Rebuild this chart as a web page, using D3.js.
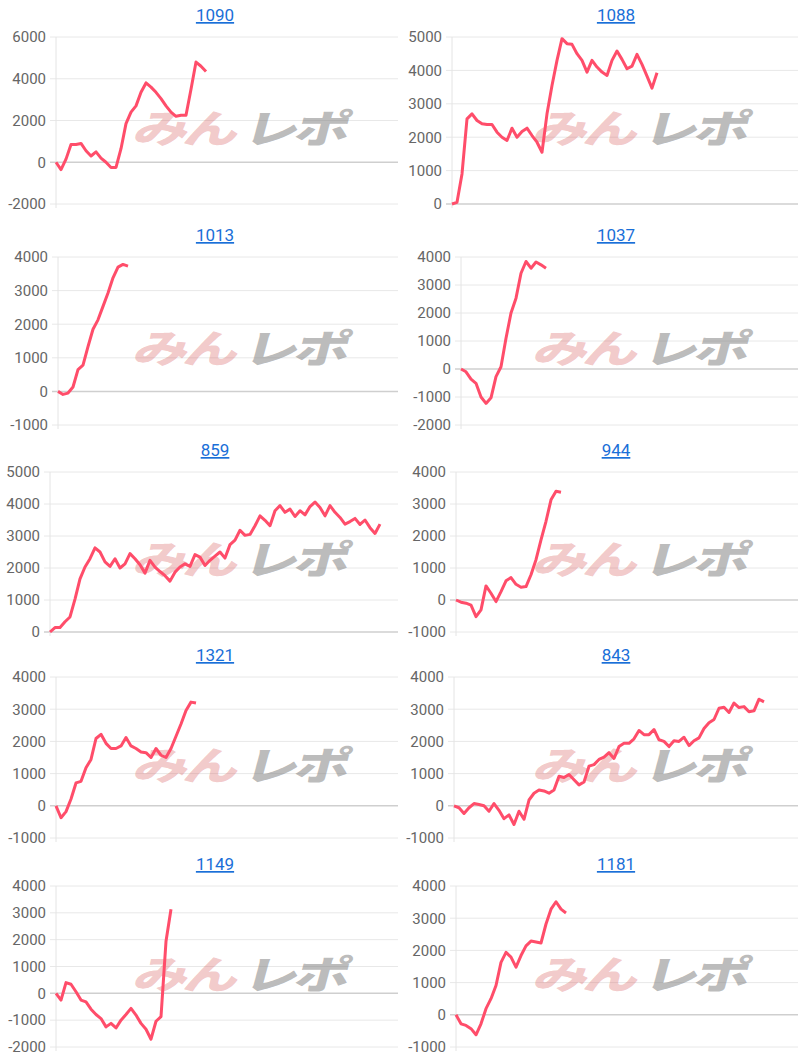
<!DOCTYPE html>
<html><head><meta charset="utf-8">
<script src="https://cdn.jsdelivr.net/npm/d3@7"></script>
<style>
body{margin:0;background:#fff;}
</style></head>
<body><div id="graph"></div>
<script>
const width = 800, height = 1058;

const titles = ['1090','1088','1013','1037','859','944','1321','843','1149','1181'];

const s1090 = [0,-350,150,850,850,900,550,300,500,200,0,-250,-250,650,1850,2400,2700,3350,3800,3600,3350,3050,2700,2400,2200,2250,2250,3500,4800,4600,4350];
const s1088 = [0,50,900,2550,2700,2500,2400,2380,2380,2150,2000,1900,2270,2000,2170,2270,2050,1850,1550,2700,3550,4300,4950,4800,4780,4500,4300,3950,4300,4100,3950,3850,4300,4580,4330,4050,4130,4480,4180,3830,3470,3930];
const s1013 = [0,-90,-50,130,650,780,1330,1850,2130,2530,2930,3380,3700,3780,3730];
const s1037 = [0,-100,-360,-510,-1000,-1230,-1030,-270,80,1100,2000,2530,3420,3840,3600,3820,3720,3600];
const s859 = [0,140,140,320,470,1030,1660,2030,2290,2630,2500,2190,2050,2290,2000,2130,2450,2290,2100,1840,2240,2030,1890,1760,1590,1870,2030,2130,2050,2420,2340,2080,2240,2370,2500,2310,2730,2870,3180,3020,3050,3320,3630,3490,3320,3790,3950,3740,3840,3610,3790,3660,3920,4060,3890,3630,3950,3740,3580,3370,3450,3550,3360,3500,3260,3080,3370];
const s944 = [0,-70,-100,-160,-520,-310,440,210,-50,260,600,700,490,400,420,790,1260,1880,2460,3130,3400,3370];
const s1321 = [0,-370,-180,210,710,760,1180,1440,2090,2220,1940,1780,1780,1860,2120,1860,1780,1670,1650,1500,1780,1570,1500,1780,2160,2540,2960,3220,3190];
const s843 = [0,-60,-240,-60,70,40,0,-170,70,-140,-400,-280,-580,-170,-420,180,390,490,460,390,490,920,880,970,810,650,740,1230,1280,1440,1510,1650,1470,1840,1940,1940,2080,2340,2210,2210,2370,2050,2000,1840,2020,2000,2130,1870,2020,2110,2400,2580,2680,3030,3060,2900,3190,3050,3080,2920,2950,3310,3230];
const s1149 = [0,-250,400,340,60,-250,-320,-590,-790,-940,-1250,-1120,-1290,-1000,-790,-560,-810,-1120,-1340,-1710,-1040,-870,1940,3130];
const s1181 = [0,-280,-330,-430,-620,-280,190,500,910,1630,1940,1790,1480,1840,2140,2290,2260,2230,2820,3280,3510,3280,3160];

const series = [s1090,s1088,s1013,s1037,s859,s944,s1321,s843,s1149,s1181];
const yMins = [-2000,0,-1000,-2000,0,-1000,-1000,-1000,-2000,-1000];
const yMaxs = [6000,5000,4000,4000,5000,4000,4000,4000,4000,4000];
const yTickSteps = [2000,1000,1000,1000,1000,1000,1000,1000,1000,1000];

// layout
const rowTop = [37,257,472,677,886];
const rowBottom = [204,425,632,838,1047];
const plotLeft = [56,452,58,461,50,456,56,454,56,456];
const slots = 70;

const svg = d3.select('#graph').append('svg')
  .attr('width', width).attr('height', height)
  .style('font-family', 'Roboto, Arial, sans-serif');

series.forEach((data, i) => {
  const col = i % 2, row = Math.floor(i / 2);
  const x0 = col * 400;
  const left = plotLeft[i], right = x0 + 398;
  const top = rowTop[row], bottom = rowBottom[row];

  const x = d3.scaleLinear().domain([0, slots - 1]).range([left, left + 345]);
  const y = d3.scaleLinear().domain([yMins[i], yMaxs[i]]).range([bottom, top]);
  const ticks = d3.range(yMins[i], yMaxs[i] + 1, yTickSteps[i]);

  const g = svg.append('g');

  // grid
  g.selectAll('line.grid').data(ticks).enter().append('line')
    .attr('x1', left - 6).attr('x2', right)
    .attr('y1', d => y(d)).attr('y2', d => y(d))
    .attr('stroke', d => d === 0 ? '#cfcfcf' : '#e8e8e8')
    .attr('stroke-width', d => d === 0 ? 1.5 : 1);
  g.append('line')
    .attr('x1', left).attr('x2', left).attr('y1', top).attr('y2', bottom + 4)
    .attr('stroke', '#e4e4e4');

  const yAxis = g.append('g')
    .attr('transform', `translate(${left - 8},0)`)
    .call(d3.axisLeft(y).tickValues(ticks).tickSize(0).tickPadding(2).tickFormat(d => String(d)));
  yAxis.select('.domain').remove();
  yAxis.selectAll('text').attr('fill', '#666').style('font-size', '15px').style('font-family', 'Roboto, Arial, sans-serif');

  // watermark
  const cx = x0 + 237, cy = (top + bottom) / 2 + 22;
  const wm = g.append('g').attr('transform', `translate(${cx},${cy}) skewX(-15) scale(1.2,0.85)`);
  wm.append('text').attr('x', -4).attr('text-anchor', 'end')
    .attr('fill', 'rgba(215,90,90,0.33)').style('font-size', '46px').style('font-weight', '900')
    .style('letter-spacing', '-4px')
    .style('font-family', '"Noto Sans CJK JP", sans-serif').text('みん');
  wm.append('text').attr('x', 4).attr('text-anchor', 'start')
    .attr('fill', 'rgba(130,130,130,0.55)').style('font-size', '46px').style('font-weight', '900')
    .style('letter-spacing', '-4px')
    .style('font-family', '"Noto Sans CJK JP", sans-serif').text('レポ');

  // line
  const line = d3.line().x((d, k) => x(k)).y(d => y(d));
  g.append('path').datum(data)
    .attr('d', line)
    .attr('fill', 'none')
    .attr('stroke', '#ff4d6a')
    .attr('stroke-width', 3)
    .attr('stroke-linejoin', 'round');

  // title
  g.append('text')
    .attr('x', x0 + (col ? 216 : 215)).attr('y', top - 16)
    .attr('text-anchor', 'middle')
    .attr('fill', '#1a6fd8')
    .style('font-size', '17px')
    .style('text-decoration', 'underline')
    .text(titles[i]);
});
</script>
</body></html>
